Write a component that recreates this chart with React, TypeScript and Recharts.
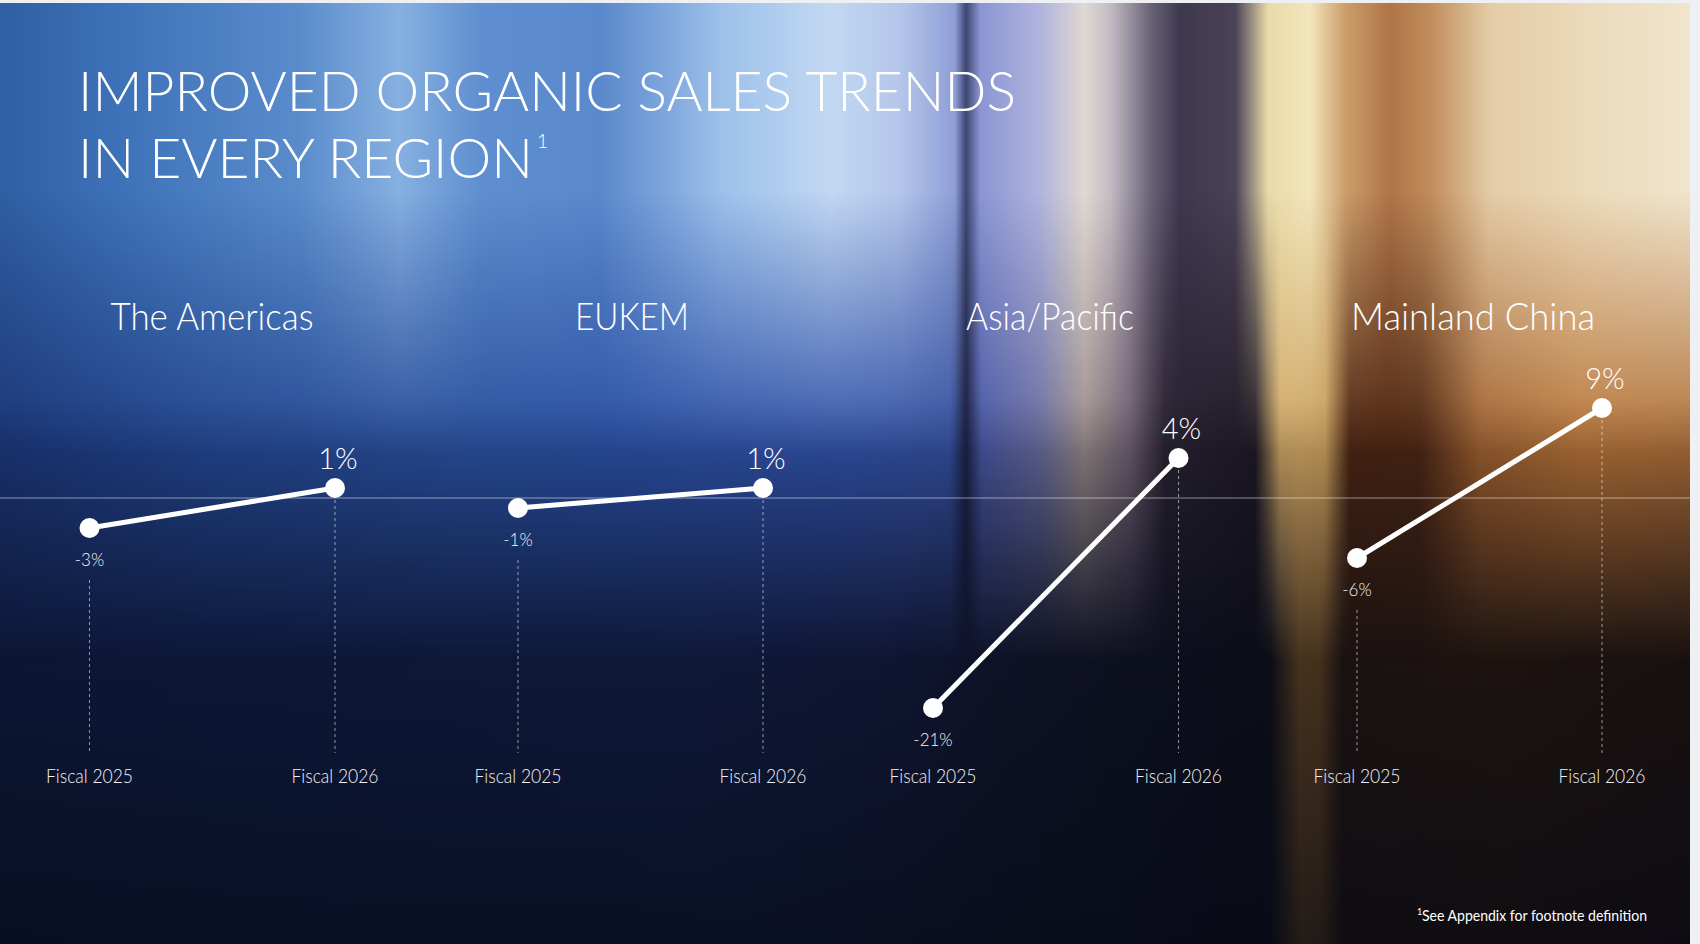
import React from 'react';
import { LineChart, Line, XAxis, YAxis, ReferenceLine, LabelList } from 'recharts';

// ---------- data ----------
const periods = ['Fiscal 2025', 'Fiscal 2026'];
const regionNames = ['The Americas', 'EUKEM', 'Asia/Pacific', 'Mainland China'];
const americasValues = [-3, 1];
const eukemValues = [-1, 1];
const asiaPacificValues = [-21, 4];
const mainlandChinaValues = [-6, 9];
const regionValues = [americasValues, eukemValues, asiaPacificValues, mainlandChinaValues];
const titleLines = ['IMPROVED ORGANIC SALES TRENDS', 'IN EVERY REGION'];
const footnoteText = 'See Appendix for footnote definition';

// ---------- layout ----------
const FONT = 'Lato, "Open Sans", "Noto Sans", sans-serif';
const Y_DOMAIN: [number, number] = [-25.5, 15];
const PLOT_TOP = 348;
const PLOT_H = 405;
const AXIS_H = 40;
const LABEL_GAP = 5.2; // gap (in value units) below a negative label before the dashed guide
const panels = [
  { left: 0, width: 425, padL: 89.5, padR: 90, titleX: 212, titleW: 203 },
  { left: 425, width: 422, padL: 93, padR: 84, titleX: 632, titleW: 114 },
  { left: 847, width: 423, padL: 86, padR: 91.5, titleX: 1050, titleW: 168 },
  { left: 1270, width: 420, padL: 87, padR: 88, titleX: 1473, titleW: 244 },
];

const ValueLabel = (props: any) => {
  const { x, y, value } = props;
  if (value == null) return null;
  if (value >= 0) {
    return (
      <text x={x + 3} y={y - 19} textAnchor="middle" fill="#ffffff" fontSize={29} fontWeight={300} fontFamily={FONT}>
        {`${value}%`}
      </text>
    );
  }
  return (
    <text x={x} y={y + 38} textAnchor="middle" fill="#f4f4f6" fontSize={17} fontWeight={300} fontFamily={FONT}>
      {`${value}%`}
    </text>
  );
};

const Tick = (props: any) => {
  const { x, y, payload } = props;
  return (
    <text x={x} y={y} dy={13.5} textAnchor="middle" fill="#f2f2f4" fontSize={19} fontWeight={300} fontFamily={FONT}
      textLength={87} lengthAdjust="spacingAndGlyphs">
      {payload.value}
    </text>
  );
};

function RegionChart({ idx }: { idx: number }) {
  const p = panels[idx];
  const vals = regionValues[idx];
  const data = periods.map((period, i) => ({ period, value: vals[i] }));
  return (
    <div style={{ position: 'absolute', left: p.left, top: PLOT_TOP }}>
      <LineChart width={p.width} height={PLOT_H + AXIS_H} data={data} margin={{ top: 0, right: 0, bottom: 0, left: 0 }}>
        <YAxis hide domain={Y_DOMAIN} type="number" allowDataOverflow />
        <XAxis dataKey="period" height={AXIS_H} axisLine={false} tickLine={false} tickSize={0} tickMargin={16}
          padding={{ left: p.padL, right: p.padR }} tick={<Tick />} interval={0} />
        <ReferenceLine y={0} stroke="rgba(255,255,255,0.5)" strokeWidth={1} ifOverflow="extendDomain" />
        {data.map((d) => {
          const start = d.value < 0 ? d.value - LABEL_GAP : d.value;
          if (start <= Y_DOMAIN[0]) return null;
          return (
            <ReferenceLine key={d.period}
              segment={[{ x: d.period, y: start }, { x: d.period, y: Y_DOMAIN[0] }]}
              stroke="rgba(255,255,255,0.55)" strokeWidth={1} strokeDasharray="3 3" />
          );
        })}
        <Line type="linear" dataKey="value" stroke="#ffffff" strokeWidth={5} isAnimationActive={false}
          dot={{ r: 10, fill: '#ffffff', stroke: 'none', strokeWidth: 0 }} activeDot={false}>
          <LabelList dataKey="value" content={<ValueLabel />} />
        </Line>
      </LineChart>
    </div>
  );
}

const layerTop =
  'linear-gradient(90deg, #2f5ea3 0px, #3e72b8 120px, #5a8ccc 300px, #86b0e0 400px, #5f8fd0 480px, #5a88cc 600px, #9cc0ea 720px, #c2d8f2 830px, #b4c6ea 900px, #8e9ed6 955px, #3d4570 966px, #8a96d2 980px, #b0b4de 1040px, #e0d8d2 1085px, #c4bcc4 1110px, #6a6478 1150px, #3e3850 1180px, #4a4256 1235px, #eadaa8 1268px, #f2e6bc 1310px, #cc9e6c 1345px, #b07448 1390px, #c08c5c 1430px, #e4cca6 1490px, #ecdcbe 1600px, #f0e4cc 1690px)';
const layerMid =
  'linear-gradient(90deg, #1c3676 0px, #24468e 200px, #2a509c 450px, #2c50a4 650px, #3252a8 850px, #34509e 950px, #1a2040 966px, #4858a2 982px, #6a6c9c 1040px, #9a8c88 1085px, #706070 1130px, #2a2230 1165px, #1e1824 1255px, #d0a868 1280px, #c8a060 1325px, #4a2412 1350px, #4a2614 1420px, #a06030 1480px, #b87438 1580px, #b07038 1690px)';
const layerLow =
  'linear-gradient(90deg, #0c1634 0px, #0d1838 400px, #0e1838 700px, #0f1530 900px, #0e1226 1000px, #0c0f1c 1170px, #0b0d18 1270px, #46321e 1300px, #44301c 1320px, #1a1212 1342px, #1c1310 1500px, #181010 1690px)';

export default function App() {
  return (
    <div style={{ position: 'absolute', left: 0, top: 0, width: 1700, height: 944, background: '#eef0f3', overflow: 'hidden' }}>
      <div style={{ position: 'absolute', left: 0, top: 3, width: 1690, height: 941, overflow: 'hidden' }}>
        <div style={{ position: 'absolute', inset: 0, background: layerLow }} />
        <div style={{
          position: 'absolute', inset: 0, background: layerMid,
          maskImage: 'linear-gradient(to bottom, #000 0%, #000 42%, transparent 70%)',
          WebkitMaskImage: 'linear-gradient(to bottom, #000 0%, #000 42%, transparent 70%)',
        }} />
        <div style={{
          position: 'absolute', inset: 0, background: layerTop,
          maskImage: 'linear-gradient(to bottom, #000 0%, #000 20%, transparent 48%)',
          WebkitMaskImage: 'linear-gradient(to bottom, #000 0%, #000 20%, transparent 48%)',
        }} />
        <div style={{ position: 'absolute', inset: 0, background: 'linear-gradient(to bottom, rgba(6,9,20,0) 70%, rgba(6,9,20,0.55) 100%)' }} />
      </div>

      {panels.map((_, i) => <RegionChart key={i} idx={i} />)}

      <svg width={1700} height={944} style={{ position: 'absolute', left: 0, top: 0, pointerEvents: 'none' }}>
        <text x={78} y={111} fill="#ffffff" fontSize={56} fontWeight={300} fontFamily={FONT}
          textLength={938} lengthAdjust="spacingAndGlyphs">{titleLines[0]}</text>
        <text x={78} y={178} fill="#ffffff" fontSize={56} fontWeight={300} fontFamily={FONT}
          textLength={455} lengthAdjust="spacingAndGlyphs">{titleLines[1]}</text>
        <text x={537} y={148} fill="#ffffff" fontSize={19} fontWeight={300} fontFamily={FONT}>1</text>
        {regionNames.map((name, i) => (
          <text key={name} x={panels[i].titleX} y={330} textAnchor="middle" fill="#ffffff" fontSize={38}
            fontWeight={300} fontFamily={FONT} textLength={panels[i].titleW} lengthAdjust="spacingAndGlyphs">{name}</text>
        ))}
        <text fill="#ffffff" fontFamily={FONT}>
          <tspan x={1417} y={915} fontSize={9}>1</tspan>
          <tspan x={1422} y={921} fontSize={15} textLength={225} lengthAdjust="spacingAndGlyphs">{footnoteText}</tspan>
        </text>
      </svg>
    </div>
  );
}
